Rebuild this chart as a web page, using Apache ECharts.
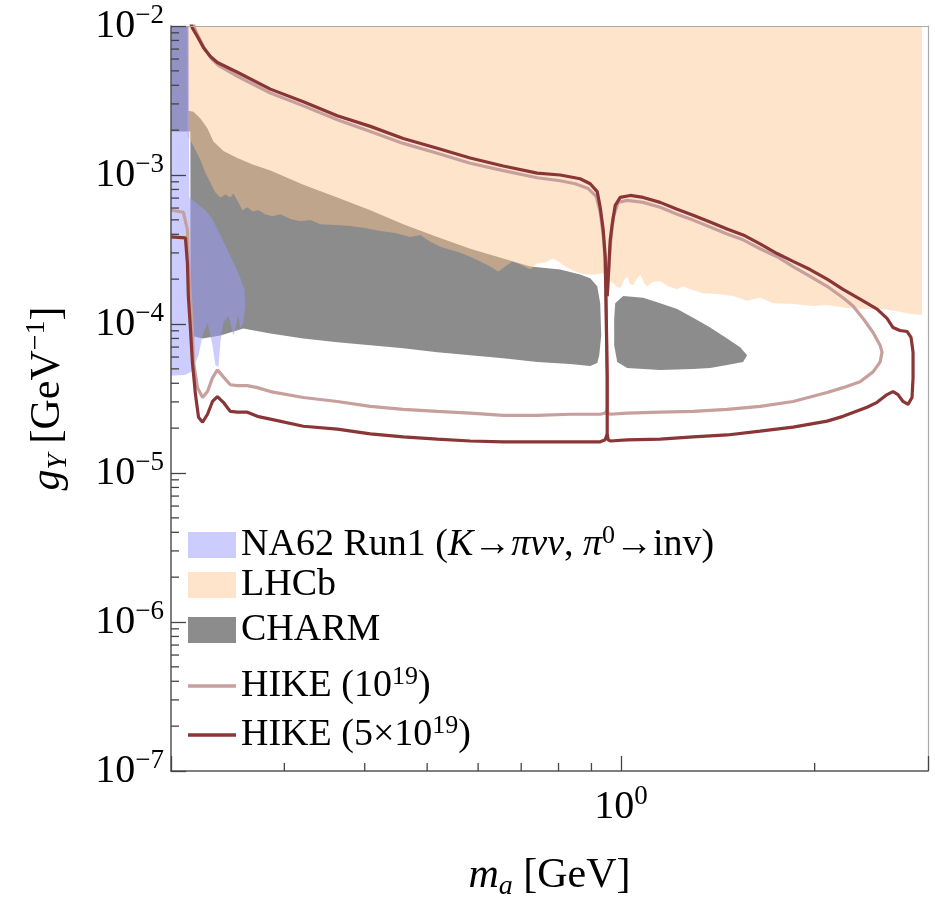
<!DOCTYPE html>
<html><head><meta charset="utf-8">
<script src="https://cdn.jsdelivr.net/npm/echarts@6/dist/echarts.min.js"></script>
<style>html,body{margin:0;padding:0;background:#fff}#c{width:935px;height:906px}</style>
</head><body><div id="c"></div>
<script>
// ---------- axis ranges and ticks ----------
const xRange = [0.2, 3];
const yRange = [1e-7, 1e-2];
const xMinorTicks = [0.3, 0.4, 0.5, 0.6, 0.7, 0.8, 0.9, 2];
const yDecades = [1e-7, 1e-6, 1e-5, 1e-4, 1e-3];
const yMinorMantissas = [2, 3, 4, 5, 6, 7, 8, 9];

// ---------- excluded regions (m_a [GeV], g_Y [GeV^-1]) ----------
const na62Region = [
  [0.200,1.00e-2],[0.2128,1.00e-2],[0.2136,7.07e-4],[0.2183,6.55e-4],[0.2262,5.80e-4],
  [0.2320,5.06e-4],[0.2386,3.96e-4],[0.2456,3.06e-4],[0.2518,2.43e-4],
  [0.2563,2.03e-4],[0.2600,1.71e-4],[0.2609,1.32e-4],[0.2591,1.01e-4],[0.2563,9.32e-5],
  [0.2545,1.14e-4],[0.2518,9.32e-5],[0.2500,8.38e-5],[0.2456,1.14e-4],[0.2412,1.02e-4],
  [0.2386,7.53e-5],[0.2370,5.15e-5],[0.2344,5.31e-5],[0.2320,7.20e-5],[0.2279,1.02e-4],
  [0.2239,8.38e-5],[0.2207,6.18e-5],[0.2159,4.84e-5],[0.2106,4.56e-5],[0.200,4.49e-5]
];
const lhcbTop = 1e-2;
const lhcbLower = [
  [0.2121,1.82e-3],[0.2144,1.71e-3],[0.2183,1.47e-3],[0.2222,1.26e-3],[0.2262,1.03e-3],
  [0.2303,8.88e-4],[0.2344,7.62e-4],[0.2386,7.07e-4],[0.2430,7.40e-4],[0.2473,7.07e-4],
  [0.2500,7.51e-4],[0.2536,6.75e-4],[0.2582,5.80e-4],[0.2628,6.07e-4],[0.2676,5.71e-4],
  [0.2734,5.80e-4],[0.2803,5.46e-4],[0.2874,5.29e-4],[0.2958,5.46e-4],[0.3066,5.06e-4],
  [0.3177,4.90e-4],[0.3293,4.98e-4],[0.3412,4.68e-4],[0.3600,4.61e-4],[0.3800,4.54e-4],
  [0.4009,4.41e-4],[0.4228,4.21e-4],[0.4462,4.08e-4],[0.4708,3.84e-4],[0.4879,3.96e-4],
  [0.5056,3.56e-4],[0.5240,3.30e-4],[0.5430,3.15e-4],[0.5629,3.01e-4],[0.5833,2.83e-4],
  [0.6046,2.63e-4],[0.6266,2.43e-4],[0.6449,2.25e-4],[0.6612,2.43e-4],[0.6781,2.63e-4],
  [0.6975,2.51e-4],[0.7229,2.32e-4],[0.7413,2.55e-4],[0.7629,2.59e-4],[0.7851,2.75e-4],
  [0.7991,2.63e-4],[0.8194,2.43e-4],[0.8491,2.25e-4],[0.8801,2.15e-4],[0.9122,2.15e-4],
  [0.9387,2.19e-4],[0.9625,1.94e-4],[0.9833,1.79e-4],[0.9975,1.74e-4],[1.0119,1.97e-4],
  [1.0228,2.09e-4],[1.0337,1.85e-4],[1.0450,1.82e-4],[1.0600,2.03e-4],[1.0715,2.15e-4],
  [1.0869,1.88e-4],[1.0986,1.79e-4],[1.1184,1.91e-4],[1.1509,1.94e-4],[1.1842,1.79e-4],
  [1.2228,1.71e-4],[1.2495,1.79e-4],[1.2811,1.71e-4],[1.3419,1.61e-4],[1.4107,1.59e-4],
  [1.4939,1.54e-4],[1.5707,1.43e-4],[1.6454,1.50e-4],[1.7236,1.38e-4],[1.8515,1.36e-4],
  [1.9890,1.32e-4],[2.0911,1.34e-4],[2.2456,1.28e-4],[2.4122,1.26e-4],[2.5547,1.26e-4],
  [2.6472,1.23e-4],[2.8130,1.17e-4],[2.9362,1.15e-4]
];
const charmLeft = [
  [0.200,1.00e-2],[0.2128,1.00e-2],[0.2128,2.70e-3],[0.2167,2.66e-3],[0.2222,2.39e-3],
  [0.2279,2.05e-3],[0.2328,1.68e-3],[0.2412,1.45e-3],[0.2536,1.30e-3],[0.2685,1.17e-3],
  [0.2854,1.07e-3],[0.3211,8.61e-4],[0.3626,7.07e-4],[0.4081,5.80e-4],[0.4591,4.68e-4],
  [0.5185,3.84e-4],[0.5833,3.20e-4],[0.6565,2.75e-4],[0.7229,2.43e-4],[0.8047,2.32e-4],
  [0.8643,2.15e-4],[0.8960,2.03e-4],[0.9188,1.79e-4],[0.9287,1.38e-4],[0.9320,8.38e-5],
  [0.9254,6.18e-5],[0.9188,5.47e-5],[0.8960,5.23e-5],[0.8340,5.39e-5],[0.7413,5.55e-5],
  [0.6565,5.90e-5],[0.5833,6.18e-5],[0.5185,6.47e-5],[0.4591,6.88e-5],[0.4081,7.20e-5],
  [0.3626,7.53e-5],[0.3211,8.00e-5],[0.2854,8.64e-5],[0.2591,9.32e-5],[0.2386,8.38e-5],
  [0.2239,8.00e-5],[0.2144,8.38e-5],[0.2144,1.96e-3],[0.200,1.96e-3]
];
const charmRight = [
  [0.9763,1.09e-4],[0.9799,1.38e-4],[1.0083,1.54e-4],[1.0830,1.50e-4],[1.1509,1.38e-4],
  [1.2228,1.26e-4],[1.2949,1.10e-4],[1.3760,9.47e-5],[1.4622,8.00e-5],[1.5319,6.98e-5],
  [1.5707,6.18e-5],[1.5484,5.55e-5],[1.4622,5.31e-5],[1.3760,5.07e-5],[1.2949,4.99e-5],
  [1.1509,4.92e-5],[1.0228,5.07e-5],[0.9869,5.55e-5],[0.9763,7.20e-5]
];

// ---------- HIKE projected sensitivity contours ----------
const hike1Left = [
  [0.200,5.80e-4],[0.2091,5.62e-4],[0.2121,4.28e-4],[0.2128,2.55e-4],[0.2144,1.54e-4],
  [0.2159,9.32e-5],[0.2167,5.55e-5],[0.2199,3.74e-5],[0.2239,3.21e-5],[0.2279,3.52e-5],
  [0.2320,4.35e-5],[0.2361,4.92e-5],[0.2412,4.42e-5],[0.2473,3.91e-5],[0.2536,3.86e-5],
  [0.2628,3.86e-5],[0.2724,3.74e-5],[0.2854,3.52e-5],[0.3211,3.21e-5],[0.3626,3.02e-5],
  [0.4081,2.80e-5],[0.4591,2.67e-5],[0.5185,2.59e-5],[0.5833,2.52e-5],[0.6565,2.44e-5],
  [0.7413,2.44e-5],[0.8340,2.48e-5],[0.9287,2.48e-5],[0.9454,2.52e-5],[0.9522,2.67e-5],
  [0.9522,4.35e-5],[0.9488,1.14e-4],[0.9454,2.63e-4],[0.9387,3.96e-4],[0.9287,5.62e-4],
  [0.9155,7.18e-4],[0.8896,8.11e-4],[0.8491,8.74e-4],[0.8047,9.15e-4],[0.7413,9.58e-4],
  [0.6565,1.07e-3],[0.5833,1.20e-3],[0.5185,1.40e-3],[0.4591,1.63e-3],[0.4081,1.96e-3],
  [0.3626,2.35e-3],[0.3211,2.91e-3],[0.2854,3.55e-3],[0.2536,4.60e-3],[0.2370,5.44e-3],
  [0.2311,6.05e-3],[0.2255,7.05e-3],[0.2207,8.46e-3],[0.2175,9.70e-3],[0.2167,1.06e-2]
];
const hike1Right = [
  [0.9522,1.54e-4],[0.9625,3.30e-4],[0.9728,5.21e-4],[0.9904,6.55e-4],[1.0228,6.75e-4],
  [1.0830,6.55e-4],[1.1509,6.07e-4],[1.2228,5.46e-4],[1.2949,4.98e-4],[1.3760,4.47e-4],
  [1.4622,4.02e-4],[1.5484,3.67e-4],[1.6454,3.20e-4],[1.7484,2.83e-4],[1.8515,2.43e-4],
  [1.9676,2.09e-4],[2.0911,1.79e-4],[2.2138,1.50e-4],[2.2943,1.32e-4],[2.3779,1.09e-4],
  [2.4648,8.77e-5],[2.5272,7.20e-5],[2.5453,6.47e-5],[2.5272,5.55e-5],[2.4648,4.77e-5],
  [2.3527,4.10e-5],[2.2138,3.74e-5],[2.0911,3.47e-5],[1.8515,3.02e-5],[1.6454,2.80e-5],
  [1.4622,2.67e-5],[1.2949,2.59e-5],[1.1509,2.56e-5],[1.0228,2.52e-5],[0.9625,2.48e-5],
  [0.9556,2.52e-5],[0.9522,2.67e-5]
];
const hike5Left = [
  [0.200,3.84e-4],[0.2106,3.78e-4],[0.2121,2.55e-4],[0.2128,1.54e-4],[0.2144,9.32e-5],
  [0.2159,5.55e-5],[0.2183,3.36e-5],[0.2207,2.37e-5],[0.2239,2.19e-5],[0.2279,2.48e-5],
  [0.2320,3.02e-5],[0.2361,3.26e-5],[0.2412,2.98e-5],[0.2473,2.59e-5],[0.2536,2.56e-5],
  [0.2628,2.56e-5],[0.2724,2.40e-5],[0.2854,2.30e-5],[0.3211,2.06e-5],[0.3626,1.97e-5],
  [0.4081,1.83e-5],[0.4591,1.75e-5],[0.5185,1.69e-5],[0.5833,1.64e-5],[0.6565,1.62e-5],
  [0.7413,1.62e-5],[0.8340,1.62e-5],[0.9287,1.62e-5],[0.9454,1.67e-5],[0.9522,1.83e-5],
  [0.9522,4.35e-5],[0.9488,1.19e-4],[0.9454,2.83e-4],[0.9387,4.28e-4],[0.9287,6.07e-4],
  [0.9188,7.74e-4],[0.8960,8.74e-4],[0.8643,9.44e-4],[0.8047,1.00e-3],[0.7413,1.03e-3],
  [0.6565,1.15e-3],[0.5833,1.30e-3],[0.5185,1.51e-3],[0.4591,1.76e-3],[0.4081,2.12e-3],
  [0.3626,2.50e-3],[0.3211,3.10e-3],[0.2854,3.77e-3],[0.2536,4.89e-3],[0.2361,5.69e-3],
  [0.2303,6.24e-3],[0.2247,7.15e-3],[0.2199,8.46e-3],[0.2159,9.70e-3],[0.2144,1.06e-2]
];
const hike5Right = [
  [0.9522,1.54e-4],[0.9625,3.67e-4],[0.9694,4.68e-4],[0.9799,6.26e-4],[0.9975,7.07e-4],
  [1.0337,7.29e-4],[1.0830,7.07e-4],[1.1509,6.55e-4],[1.2228,5.89e-4],[1.2949,5.37e-4],
  [1.3760,4.83e-4],[1.4622,4.34e-4],[1.5484,3.96e-4],[1.6454,3.45e-4],[1.7484,2.97e-4],
  [1.8515,2.63e-4],[1.9676,2.32e-4],[2.0911,2.00e-4],[2.2138,1.71e-4],[2.3527,1.47e-4],
  [2.5003,1.26e-4],[2.5911,1.09e-4],[2.6472,9.47e-5],[2.7141,9.04e-5],[2.7832,8.91e-5],
  [2.8234,8.13e-5],[2.8438,6.47e-5],[2.8438,4.35e-5],[2.8334,3.21e-5],[2.7929,2.89e-5],
  [2.7437,3.02e-5],[2.6948,3.36e-5],[2.6472,3.52e-5],[2.5911,3.36e-5],[2.5003,2.98e-5],
  [2.4122,2.76e-5],[2.2138,2.40e-5],[2.0911,2.23e-5],[1.8515,2.03e-5],[1.6454,1.91e-5],
  [1.4622,1.80e-5],[1.2949,1.75e-5],[1.1509,1.69e-5],[1.0228,1.67e-5],[0.9625,1.64e-5],
  [0.9556,1.67e-5],[0.9522,1.83e-5]
];

// ---------- texts ----------
const legendNames = ['NA62', 'LHCb', 'CHARM', 'HIKE1', 'HIKE5'];
const legendTexts = [
  '{r|NA62 Run1 (}{i|K}{r|→}{i|πνν}{r|, }{i|π}{s|0}{r|→inv)}',
  '{r|LHCb}',
  '{r|CHARM}',
  '{r|HIKE (10}{s|19}{r|)}',
  '{r|HIKE (5×10}{s|19}{r|)}'
];
const xTitle = '{i|m}{sub|a}{r| [GeV]}';
const yTitle = '{i|g}{sub|Y}{r| [GeV}{s|−1}{r|]}';

// ---------- styling ----------
const FONT = "'Liberation Serif', 'DejaVu Serif', serif";
const C_NA62 = 'rgba(153,153,255,0.5)';
const C_LHCB = 'rgba(255,195,142,0.45)';
const C_CHARM = '#8c8c8c';
const C_H1 = '#c79f9c';
const C_H5 = '#8a3636';
const legendCenters = [545, 588, 633, 686, 735];
const legendIcons = ['rect', 'rect', 'rect', 'path://M0,0L48,0L48,3.5L0,3.5Z', 'path://M0,0L48,0L48,3.5L0,3.5Z'];

const yMinorTicks = yDecades.flatMap(d => yMinorMantissas.map(m => m * d));

function isDecade(v) { const l = Math.log10(v); return Math.abs(l - Math.round(l)) < 1e-6; }
function powLabel(v) {
  if (!isDecade(v)) return '';
  const e = Math.round(Math.log10(v));
  return '{b|10}{s|' + (e < 0 ? '−' + (-e) : e) + '}';
}
const tickRich = {
  b: { fontSize: 40, fontFamily: FONT, color: '#000', lineHeight: 48 },
  s: { fontSize: 27, fontFamily: FONT, color: '#000', verticalAlign: 'top', lineHeight: 28 }
};
const titleRich = {
  r: { fontSize: 42, fontFamily: FONT, color: '#000', lineHeight: 50 },
  i: { fontSize: 42, fontFamily: FONT, fontStyle: 'italic', color: '#000', lineHeight: 50 },
  sub: { fontSize: 28, fontFamily: FONT, fontStyle: 'italic', color: '#000', verticalAlign: 'bottom', lineHeight: 34 },
  s: { fontSize: 28, fontFamily: FONT, color: '#000', verticalAlign: 'top', lineHeight: 30 }
};
const legendRich = {
  r: { fontSize: 38, fontFamily: FONT, color: '#000', lineHeight: 44 },
  i: { fontSize: 38, fontFamily: FONT, fontStyle: 'italic', color: '#000', lineHeight: 44 },
  s: { fontSize: 26, fontFamily: FONT, color: '#000', verticalAlign: 'top', lineHeight: 26 }
};

function regionSeries(name, polys, color, z) {
  const all = [].concat(...polys);
  return {
    name, type: 'custom', coordinateSystem: 'cartesian2d', xAxisIndex: 0, yAxisIndex: 0,
    data: all, encode: { x: 0, y: 1 }, clip: true, z, silent: true,
    itemStyle: { color, borderWidth: 0 },
    renderItem: function (params, api) {
      if (params.dataIndex !== 0) return null;
      return {
        type: 'group',
        children: polys.map(p => ({ type: 'polygon', shape: { points: p.map(pt => api.coord(pt)) }, style: { fill: color } }))
      };
    }
  };
}
function lineSeries(name, data, color, z) {
  return {
    name, type: 'line', data, symbol: 'none', showSymbol: false, z, silent: true,
    color, itemStyle: { color }, lineStyle: { color, width: 3.2 }, clip: true
  };
}
function tickSeries(data, dx, dy, len) {
  return {
    type: 'custom', coordinateSystem: 'cartesian2d', data, encode: { x: 0, y: 1 }, clip: false, z: 30, silent: true,
    renderItem: function (params, api) {
      const p = api.coord([api.value(0), api.value(1)]);
      return { type: 'line', shape: { x1: p[0], y1: p[1], x2: p[0] + dx * len, y2: p[1] + dy * len },
               style: { stroke: '#444', lineWidth: 1.3 } };
    }
  };
}

const lhcbPolygon = [[lhcbLower[0][0], lhcbTop], [lhcbLower[lhcbLower.length - 1][0], lhcbTop]]
  .concat(lhcbLower.slice().reverse());

const chart = echarts.init(document.getElementById('c'), null, { renderer: 'canvas' });
const axisCommon = { type: 'log', logBase: 10, z: 10, splitLine: { show: false } };
chart.setOption({
  animation: false,
  backgroundColor: '#fff',
  grid: { left: 171, top: 26, right: 7, bottom: 124, show: false },
  xAxis: [
    Object.assign({}, axisCommon, {
      min: xRange[0], max: xRange[1], position: 'bottom',
      axisLine: { show: true, lineStyle: { color: '#555', width: 1.5 } },
      axisTick: { show: true, inside: true, length: 15, lineStyle: { color: '#444', width: 1.3 } },
      axisLabel: { formatter: powLabel, rich: tickRich, margin: 12, showMinLabel: true, showMaxLabel: true, hideOverlap: false },
      name: xTitle, nameLocation: 'middle', nameGap: 80, nameTextStyle: { rich: titleRich }
    }),
    Object.assign({}, axisCommon, {
      min: xRange[0], max: xRange[1], position: 'top',
      axisLine: { show: true, lineStyle: { color: '#aaa', width: 1.2 } },
      axisTick: { show: false }, axisLabel: { show: false }
    })
  ],
  yAxis: [
    Object.assign({}, axisCommon, {
      min: yRange[0], max: yRange[1], position: 'left',
      axisLine: { show: true, lineStyle: { color: '#555', width: 1.5 } },
      axisTick: { show: true, inside: true, length: 15, lineStyle: { color: '#444', width: 1.3 } },
      axisLabel: { formatter: powLabel, rich: tickRich, margin: 7, showMinLabel: true, showMaxLabel: true, hideOverlap: false },
      name: yTitle, nameLocation: 'middle', nameRotate: 90, nameGap: 98, nameTextStyle: { rich: titleRich }
    }),
    Object.assign({}, axisCommon, {
      min: yRange[0], max: yRange[1], position: 'right',
      axisLine: { show: true, lineStyle: { color: '#aaa', width: 1.2 } },
      axisTick: { show: false }, axisLabel: { show: false }
    })
  ],
  legend: legendNames.map((n, i) => ({
    left: 188, top: legendCenters[i] - 22, padding: 0, orient: 'vertical',
    itemWidth: 48, itemHeight: 26, selectedMode: false,
    itemStyle: { borderWidth: 0 }, lineStyle: { width: 0 },
    data: [{ name: n, icon: legendIcons[i] }],
    formatter: () => legendTexts[i],
    textStyle: { rich: legendRich, fontSize: 38, fontFamily: FONT, color: '#000' }
  })),
  series: [
    regionSeries('CHARM', [charmLeft, charmRight], C_CHARM, 1),
    regionSeries('LHCb', [lhcbPolygon], C_LHCB, 2),
    regionSeries('NA62', [na62Region], C_NA62, 3),
    lineSeries('HIKE1', hike1Left, C_H1, 4),
    lineSeries('HIKE1', hike1Right, C_H1, 4),
    lineSeries('HIKE5', hike5Left, C_H5, 5),
    lineSeries('HIKE5', hike5Right, C_H5, 5),
    tickSeries(yMinorTicks.map(v => [xRange[0], v]), 1, 0, 8),
    tickSeries(xMinorTicks.map(v => [v, yRange[0]]), 0, -1, 8)
  ]
});
</script>
</body></html>
